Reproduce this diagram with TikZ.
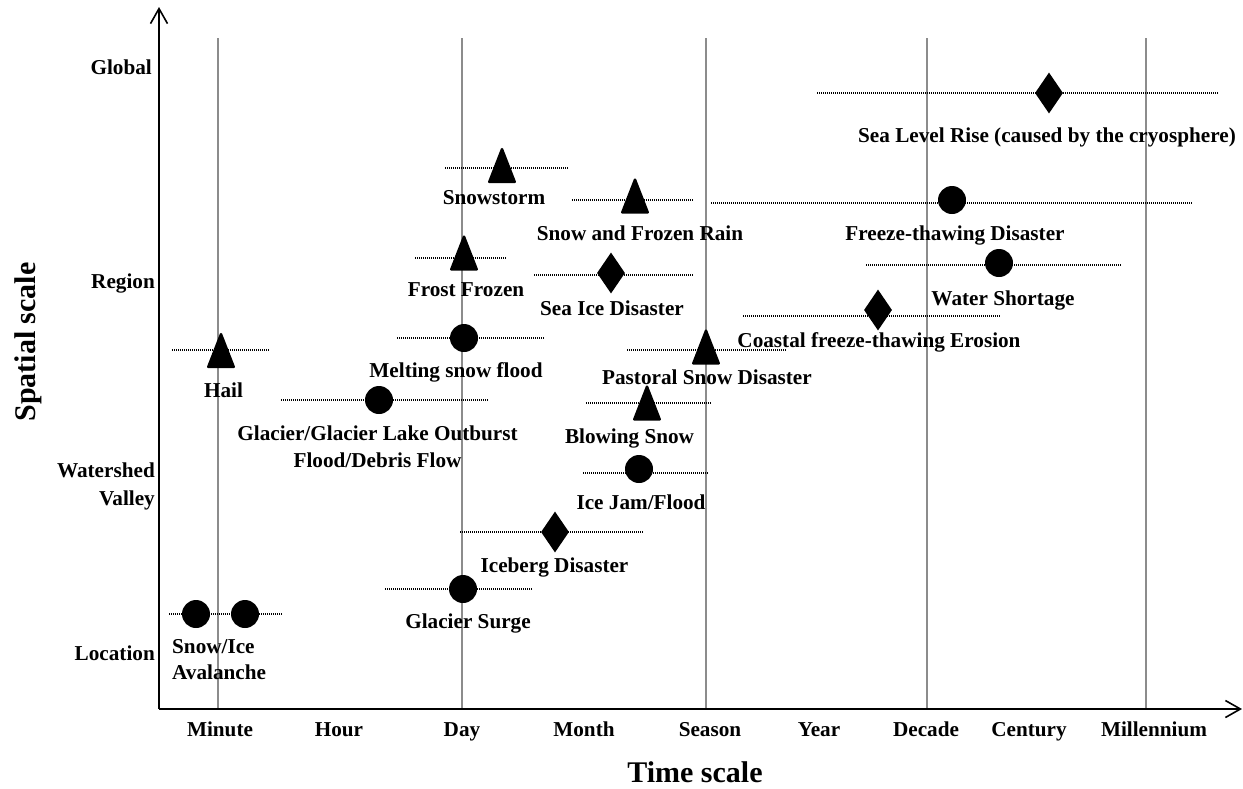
\documentclass[tikz,border=0pt]{standalone}
\usepackage{fontspec}
\setmainfont{Liberation Serif}
\usetikzlibrary{arrows.meta,shapes.geometric}
\begin{document}
\begin{tikzpicture}[x=1pt,y=-1pt,
  lbl/.style={font=\fontsize{21.2}{27}\selectfont\bfseries, inner sep=0pt, anchor=base},
  ylbl/.style={lbl, anchor=base east},
  big/.style={font=\fontsize{30}{36}\selectfont\bfseries, inner sep=0pt},
  axis/.style={line width=2pt, -{Straight Barb[length=15pt,width=17pt,line width=1.6pt]}},
  grid/.style={draw=black!45, line width=1.3pt},
  dotline/.style={line width=1.3pt, dash pattern=on 1pt off 1pt},
  dotm/.style={circle, fill=black, minimum size=28pt, inner sep=0pt},
  diam/.style={diamond, fill=black, minimum width=28pt, minimum height=41pt, inner sep=0pt},
  tri/.pic={\filldraw[line join=round, line width=2.5pt] (0,-16.3) -- (12.7,16.3) -- (-12.7,16.3) -- cycle;}
]
\useasboundingbox (0,0) rectangle (1243,788);

% vertical grid lines
\foreach \n/\x in {gmin/218, gday/462, gsea/706, gdec/927, gmil/1146} {
  \coordinate (\n-t) at (\x,38);
  \coordinate (\n-b) at (\x,709);
  \draw[grid] (\n-t) -- (\n-b);
}

% axes
\coordinate (O) at (159,709);
\coordinate (ytop) at (159,7);
\coordinate (xend) at (1242,709);
\draw[axis] (O) -- (ytop);
\draw[axis] (O) -- (xend);

% axis labels
\node[ylbl] (lglob) at (152,74) {Global};
\node[ylbl] (lreg) at (155,288) {Region};
\node[ylbl] (lwat) at (155,477) {Watershed};
\node[ylbl] (lval) at (155,505) {Valley};
\node[ylbl] (lloc) at (155,660) {Location};
\node[big, rotate=90] (spatial) at (28,342) {Spatial scale};

\foreach \n/\x/\t in {tmin/220/Minute, thou/339/Hour, tday/462/Day, tmon/584/Month, tsea/710/Season, tyear/819/Year, tdec/926/Decade, tcen/1029/Century, tmil/1154/Millennium} {
  \node[lbl] (\n) at (\x,736) {\t};
}
\node[big, anchor=base] (timescale) at (695,782) {Time scale};

% dotted ranges
\foreach \n/\a/\b/\y in {slr/817/1218/93, ftd/711/1192/203, wsh/866/1122/265, cfe/743/1000/316,
  sst/445/568/168, sfr/572/694/200, frf/415/507/258, sid/534/693/275, msf/397/544/338,
  hail/172/269/350, glo/281/489/400, psd/627/787/350, bls/586/711/403, ijf/583/708/473,
  ibd/460/644/532, gls/385/533/589, sia/169/282/614} {
  \coordinate (\n-l) at (\a,\y);
  \coordinate (\n-r) at (\b,\y);
  \draw[dotline] (\n-l) -- (\n-r);
}

% markers: circles
\node[dotm] (m-ftd) at (952,200) {};
\node[dotm] (m-wsh) at (999,263) {};
\node[dotm] (m-msf) at (464,338) {};
\node[dotm] (m-glo) at (379,400) {};
\node[dotm] (m-ijf) at (639,469) {};
\node[dotm] (m-gls) at (463,589) {};
\node[dotm] (m-sia1) at (196,614) {};
\node[dotm] (m-sia2) at (245,614) {};

% markers: diamonds
\node[diam] (m-slr) at (1049,93) {};
\node[diam] (m-sid) at (611,273) {};
\node[diam] (m-cfe) at (878,310) {};
\node[diam] (m-ibd) at (555,532) {};

% markers: triangles
\coordinate (m-sst) at (502,165.5);
\coordinate (m-sfr) at (635,196);
\coordinate (m-frf) at (464,253);
\coordinate (m-hail) at (221,350.5);
\coordinate (m-psd) at (706,347);
\coordinate (m-bls) at (647,403);
\foreach \n in {m-sst, m-sfr, m-frf, m-hail, m-psd, m-bls} {
  \pic at (\n) {tri};
}

% event labels
\node[lbl] (t-slr) at (1047,142) {Sea Level Rise (caused by the cryosphere)};
\node[lbl] (t-ftd) at (955,240) {Freeze-thawing Disaster};
\node[lbl] (t-wsh) at (1003,305) {Water Shortage};
\node[lbl] (t-cfe) at (879,347) {Coastal freeze-thawing Erosion};
\node[lbl] (t-sst) at (494,204) {Snowstorm};
\node[lbl] (t-sfr) at (640,240) {Snow and Frozen Rain};
\node[lbl] (t-frf) at (466,296) {Frost Frozen};
\node[lbl] (t-sid) at (612,315) {Sea Ice Disaster};
\node[lbl] (t-msf) at (456,377) {Melting snow flood};
\node[lbl] (t-hail) at (223.5,397) {Hail};
\node[lbl] (t-glo1) at (377.5,440) {Glacier/Glacier Lake Outburst};
\node[lbl] (t-glo2) at (377.5,467) {Flood/Debris Flow};
\node[lbl] (t-psd) at (707,384) {Pastoral Snow Disaster};
\node[lbl] (t-bls) at (629.5,443) {Blowing Snow};
\node[lbl] (t-ijf) at (641,509) {Ice Jam/Flood};
\node[lbl] (t-ibd) at (554.5,572) {Iceberg Disaster};
\node[lbl] (t-gls) at (468,628) {Glacier Surge};
\node[lbl, anchor=base west] (t-sia1) at (172,653) {Snow/Ice};
\node[lbl, anchor=base west] (t-sia2) at (172,679) {Avalanche};
\end{tikzpicture}
\end{document}
